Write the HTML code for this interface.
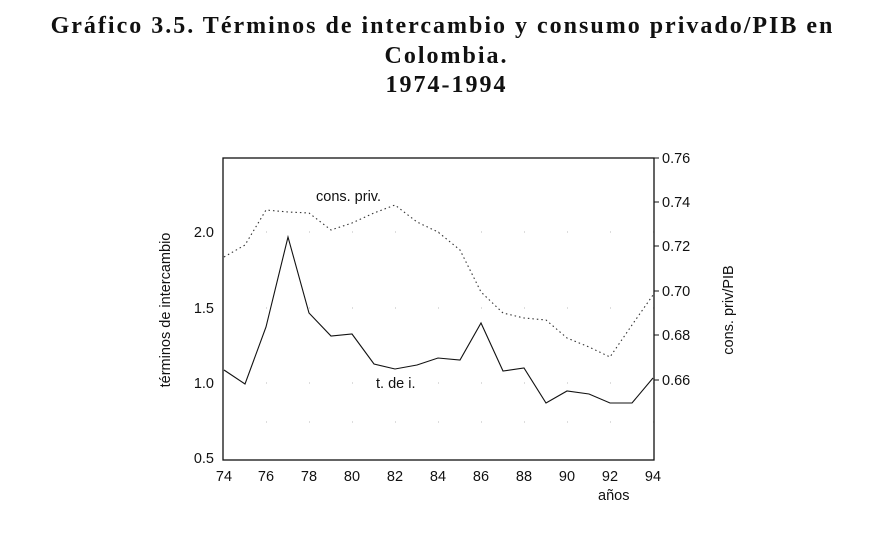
<!DOCTYPE html>
<html><head><meta charset="utf-8"><style>
body{margin:0;background:#fff;width:893px;height:544px;overflow:hidden}
.t{position:absolute;left:0;width:893px;text-align:center;font-family:"Liberation Serif",serif;font-weight:bold;font-size:24px;color:#111;letter-spacing:2px}
</style></head><body>
<div class="t" style="top:13px;left:-4px">Gráfico 3.5. Términos de intercambio y consumo privado/PIB en</div>
<div class="t" style="top:43px">Colombia.</div>
<div class="t" style="top:72px">1974-1994</div>
<svg width="893" height="544" style="position:absolute;left:0;top:0" font-family="Liberation Sans, sans-serif" font-size="14.5" fill="#111">
<g stroke="#bbb" stroke-width="1" stroke-dasharray="1 42">
<line x1="266" y1="232" x2="654" y2="232"/><line x1="266" y1="308" x2="654" y2="308"/><line x1="266" y1="383" x2="654" y2="383"/><line x1="266" y1="422" x2="654" y2="422"/>
</g>
<rect x="223" y="158" width="431" height="302" fill="none" stroke="#111" stroke-width="1.3"/>
<g stroke="#111" stroke-width="1">
<line x1="654" y1="202" x2="659" y2="202"/><line x1="654" y1="246" x2="659" y2="246"/><line x1="654" y1="291" x2="659" y2="291"/><line x1="654" y1="335" x2="659" y2="335"/><line x1="654" y1="380" x2="659" y2="380"/><line x1="654" y1="158" x2="659" y2="158"/>
</g>
<polyline fill="none" stroke="#111" stroke-width="1.1" points="224,370 245,384 266,327 288,237 309,313 331,336 352,334 374,364 395,369 417,365 438,358 460,360 481,323 503,371 524,368 546,403 567,391 589,394 610,403 632,403 653,378"/>
<polyline fill="none" stroke="#333" stroke-width="1.1" stroke-dasharray="1.5 3" points="224,257 245,245 266,210 288,212 309,213 331,230 352,223 374,213 395,205 417,222 438,232 460,250 481,292 503,313 524,318 546,320 567,338 589,347 610,357 632,325 653,295"/>
<text x="316" y="201">cons. priv.</text>
<text x="376" y="388">t. de i.</text>
<g text-anchor="end"><text x="214" y="237">2.0</text><text x="214" y="313">1.5</text><text x="214" y="388">1.0</text><text x="214" y="463">0.5</text></g>
<g><text x="662" y="163">0.76</text><text x="662" y="207">0.74</text><text x="662" y="251">0.72</text><text x="662" y="296">0.70</text><text x="662" y="340">0.68</text><text x="662" y="385">0.66</text></g>
<g text-anchor="middle"><text x="224" y="481">74</text><text x="266" y="481">76</text><text x="309" y="481">78</text><text x="352" y="481">80</text><text x="395" y="481">82</text><text x="438" y="481">84</text><text x="481" y="481">86</text><text x="524" y="481">88</text><text x="567" y="481">90</text><text x="610" y="481">92</text><text x="653" y="481">94</text></g>
<text x="598" y="500">años</text>
<text transform="translate(170,310) rotate(-90)" text-anchor="middle">términos de intercambio</text>
<text transform="translate(733,310) rotate(-90)" text-anchor="middle">cons. priv/PIB</text>
</svg>
</body></html>
